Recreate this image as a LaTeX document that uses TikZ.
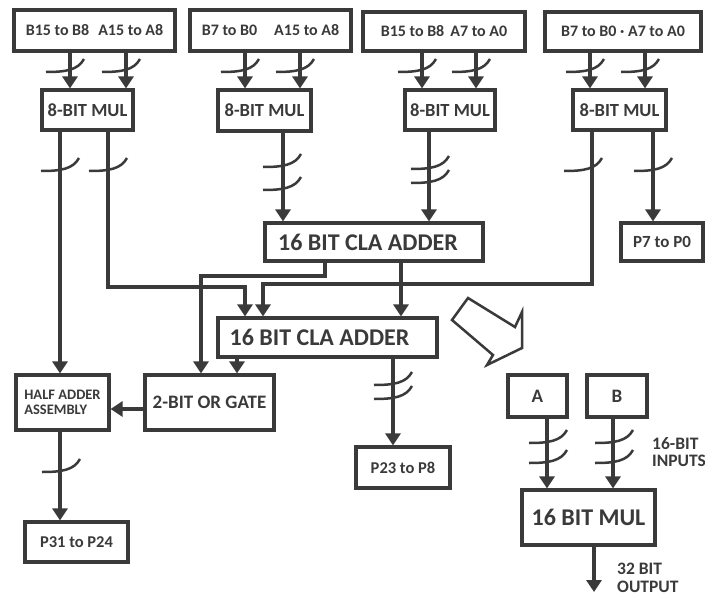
\documentclass[tikz,border=0pt]{standalone}
\usepackage{fontspec}
\setmainfont{Carlito}
\usetikzlibrary{arrows.meta}
\definecolor{ink}{HTML}{3A3A3A}
\newcommand{\fs}[1]{\fontsize{#1}{#1}\selectfont\bfseries}
\begin{document}
\begin{tikzpicture}[x=1pt,y=-1pt,
  box/.style={draw=ink, line width=3.1pt, inner sep=0pt, text=ink, align=center},
  wire/.style={draw=ink, line width=3.1pt},
  arr/.style={wire, -{Triangle[length=12pt,width=15pt]}},
  txt/.style={text=ink, inner sep=0pt, align=left, anchor=west},
  busmark/.pic={\draw[ink, line width=2.5pt] (-20,6) .. controls (0,6) and (12,4) .. (18,-7);}
]
\useasboundingbox (0,0) rectangle (705,597);
\fill[white] (0,0) rectangle (705,597);

% input boxes
\node[box, minimum width=161pt, minimum height=41pt, font=\fs{16}] (i1) at (94.5,30.5) {B15 to B8\hspace{9pt}A15 to A8};
\node[box, minimum width=161pt, minimum height=41pt, font=\fs{16}] (i2) at (270.5,30.5) {B7 to B0\hspace{17pt}A15 to A8};
\node[box, minimum width=162pt, minimum height=39pt, font=\fs{16}] (i3) at (444,31.5) {B15 to B8\hspace{6pt}A7 to A0};
\node[box, minimum width=156pt, minimum height=39pt, font=\fs{16}] (i4) at (623,31.5) {B7 to B0 · A7 to A0};

% 8-bit multipliers
\node[box, minimum width=91pt, minimum height=40pt, font=\fs{18.5}] (m1) at (87.5,110) {8-BIT MUL};
\node[box, minimum width=93pt, minimum height=41pt, font=\fs{18.5}] (m2) at (264.5,110.5) {8-BIT MUL};
\node[box, minimum width=90pt, minimum height=40pt, font=\fs{18.5}] (m3) at (450,110) {8-BIT MUL};
\node[box, minimum width=93pt, minimum height=40pt, font=\fs{18.5}] (m4) at (619.5,110) {8-BIT MUL};

% adders and outputs
\node[box, minimum width=218pt, minimum height=38pt, font=\fs{24}] (cla1) at (374,242) {16 BIT CLA ADDER\hspace{12pt}};
\node[box, minimum width=82pt, minimum height=38pt, font=\fs{17}] (p70) at (662,242) {P7 to P0};
\node[box, minimum width=219pt, minimum height=39pt, font=\fs{24}] (cla2) at (327.5,337.5) {16 BIT CLA ADDER\hspace{16pt}};
\node[box, minimum width=129pt, minimum height=55pt, font=\fs{19}] (org) at (209.5,402.5) {2-BIT OR GATE};
\node[box, minimum width=93pt, minimum height=55pt, font=\fs{14.5}, align=left] (ha) at (62.5,402.5) {HALF ADDER\\ASSEMBLY};
\node[box, minimum width=103pt, minimum height=40pt, font=\fs{16.5}] (p3124) at (76.5,542) {P31 to P24};
\node[box, minimum width=94pt, minimum height=41pt, font=\fs{16.5}] (p238) at (403,467.5) {P23 to P8};

% 16-bit multiplier symbol
\node[box, minimum width=59pt, minimum height=42pt, font=\fs{19}] (A) at (537.5,396) {A};
\node[box, minimum width=60pt, minimum height=42pt, font=\fs{19}] (B) at (617,396) {B};
\node[box, minimum width=133pt, minimum height=55pt, font=\fs{24}] (mul16) at (588.5,517.5) {16 BIT MUL};
\node[txt, font=\fs{17.5}] (inl) at (652,452) {16-BIT\\INPUTS};
\node[txt, font=\fs{17.5}] (outl) at (617,578) {32 BIT\\OUTPUT};
\coordinate (outend) at (594,592);

% inputs to multipliers
\draw[arr] (i1.south -| 70,0) -- (m1.north -| 70,0);
\draw[arr] (i1.south -| 126,0) -- (m1.north -| 126,0);
\draw[arr] (i2.south -| 245,0) -- (m2.north -| 245,0);
\draw[arr] (i2.south -| 300,0) -- (m2.north -| 300,0);
\draw[arr] (i3.south -| 422,0) -- (m3.north -| 422,0);
\draw[arr] (i3.south -| 476,0) -- (m3.north -| 476,0);
\draw[arr] (i4.south -| 590,0) -- (m4.north -| 590,0);
\draw[arr] (i4.south -| 645,0) -- (m4.north -| 645,0);
\foreach \xx in {70,126,245,300,422,476,590,645} \pic at (\xx-4,66) {busmark};

% multiplier outputs
\draw[arr] (m1.south -| 60,0) -- (ha.north -| 60,0);
\draw[arr] (m1.south -| 108,0) -- (108,287) -- (245,287) -- (cla2.north -| 245,0);
\draw[arr] (m2.south -| 283,0) -- (cla1.north -| 283,0);
\draw[arr] (m3.south -| 429,0) -- (cla1.north -| 429,0);
\draw[arr] (m4.south -| 592,0) -- (592,284) -- (263,284) -- (cla2.north -| 263,0);
\draw[arr] (m4.south -| 653,0) -- (p70.north -| 653,0);
\pic at (61,165) {busmark};
\pic at (109,165) {busmark};
\pic at (283,161) {busmark};
\pic at (283,184) {busmark};
\pic at (431,163) {busmark};
\pic at (431,177) {busmark};
\pic at (584,165) {busmark};
\pic at (654,165) {busmark};

% adder connections
\draw[arr] (cla1.south -| 325,0) -- (325,276) -- (201,276) -- (org.north -| 201,0);
\draw[arr] (cla1.south -| 401,0) -- (cla2.north -| 401,0);
\draw[arr] (cla2.south -| 237,0) -- (org.north -| 237,0);
\draw[arr] (cla2.south -| 393,0) -- (p238.north -| 393,0);
\pic at (394,379) {busmark};
\pic at (394,393) {busmark};
\draw[arr] (org.west |- 0,409) -- (ha.east |- 0,409);
\draw[arr] (ha.south -| 60,0) -- (p3124.north -| 60,0);
\pic at (62,466) {busmark};

% hollow arrow
\draw[ink, line width=2.5pt, line join=miter] (468,298) -- (452,320) -- (493,355) -- (487,365) -- (522,348) -- (522,312) -- (515,327) -- cycle;

% 16-bit multiplier connections
\draw[arr] (A.south -| 547,0) -- (mul16.north -| 547,0);
\draw[arr] (B.south -| 613,0) -- (mul16.north -| 613,0);
\pic at (549,437) {busmark};
\pic at (549,457) {busmark};
\pic at (615,437) {busmark};
\pic at (615,457) {busmark};
\draw[arr] (mul16.south -| 594,0) -- (outend);
\end{tikzpicture}
\end{document}
